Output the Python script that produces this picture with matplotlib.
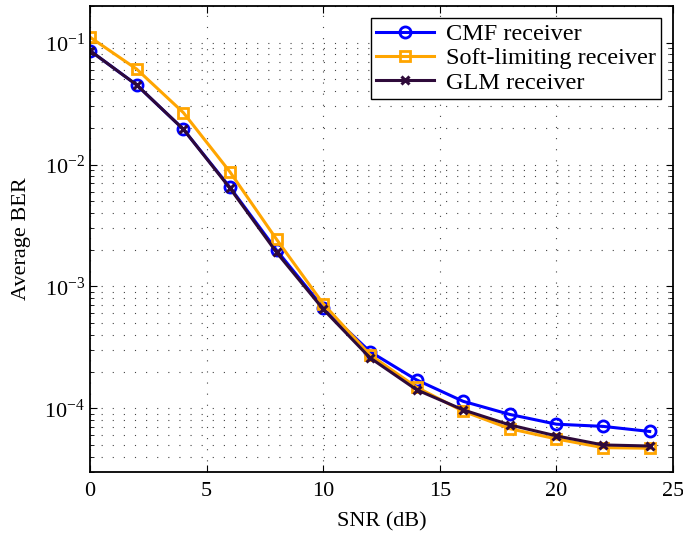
import numpy as np
import matplotlib.pyplot as plt
from matplotlib.ticker import LogLocator, NullFormatter

plt.rcParams['font.family'] = ['Liberation Serif', 'DejaVu Serif']
plt.rcParams['mathtext.fontset'] = 'stix'

# SNR points (dB)
snr = [0, 2, 4, 6, 8, 10, 12, 14, 16, 18, 20, 22, 24]

# average BER
ber_cmf = [0.086, 0.045, 0.0195, 0.0065, 0.00198, 6.7e-4, 2.92e-4, 1.71e-4,
           1.14e-4, 8.9e-5, 7.4e-5, 7.1e-5, 6.45e-5]
ber_soft = [0.111, 0.0607, 0.0267, 0.0087, 0.00243, 7.2e-4, 2.75e-4, 1.49e-4,
            9.45e-5, 6.8e-5, 5.6e-5, 4.75e-5, 4.7e-5]
ber_glm = [0.086, 0.045, 0.0195, 0.0064, 0.0019, 6.5e-4, 2.6e-4, 1.42e-4,
           9.7e-5, 7.3e-5, 5.93e-5, 5.0e-5, 4.9e-5]

fig = plt.figure(figsize=(6.83, 5.35), dpi=100)
ax = fig.add_axes([0.1318, 0.1178, 0.8536, 0.871])

ax.semilogy(snr, ber_cmf, '-o', color='#0000ff', lw=2.2, ms=8, mew=2,
            mfc='none', label='CMF receiver')
ax.semilogy(snr, ber_soft, '-s', color='#ffa500', lw=2.2, ms=7, mew=2,
            mfc='none', label='Soft-limiting receiver')
ax.semilogy(snr, ber_glm, '-x', color='#2e0a3a', lw=2.2, ms=6, mew=2.2,
            label='GLM receiver')

ax.set_xlim(0, 25)
ax.set_ylim(3e-5, 0.2)
ax.set_xticks([0, 5, 10, 15, 20, 25])
ax.yaxis.set_major_locator(LogLocator(base=10, numticks=10))
ax.yaxis.set_minor_locator(LogLocator(base=10, subs=np.arange(2, 10), numticks=10))
ax.yaxis.set_minor_formatter(NullFormatter())

ax.grid(True, which='major', ls=(0, (1, 9)), color='#444444', lw=0.8)
ax.grid(True, which='minor', axis='y', ls=(0, (1, 9)), color='#444444', lw=0.8)

ax.tick_params(which='both', direction='in', top=True, right=True, labelsize=16)
ax.tick_params(axis='x', pad=7)
ax.tick_params(which='major', length=5)
ax.tick_params(which='minor', length=3)
for s in ax.spines.values():
    s.set_linewidth(1.3)

ax.set_xlabel('SNR (dB)', fontsize=16, labelpad=8)
ax.set_ylabel('Average BER', fontsize=16, labelpad=10)

leg = ax.legend(loc='upper right', fontsize=17.5, fancybox=False, framealpha=1,
                edgecolor='black', borderpad=0.2, labelspacing=0.1,
                handlelength=2.4, handletextpad=0.5, borderaxespad=0.5)
leg.get_frame().set_linewidth(1.0)

fig.savefig('out.png', dpi=100)
